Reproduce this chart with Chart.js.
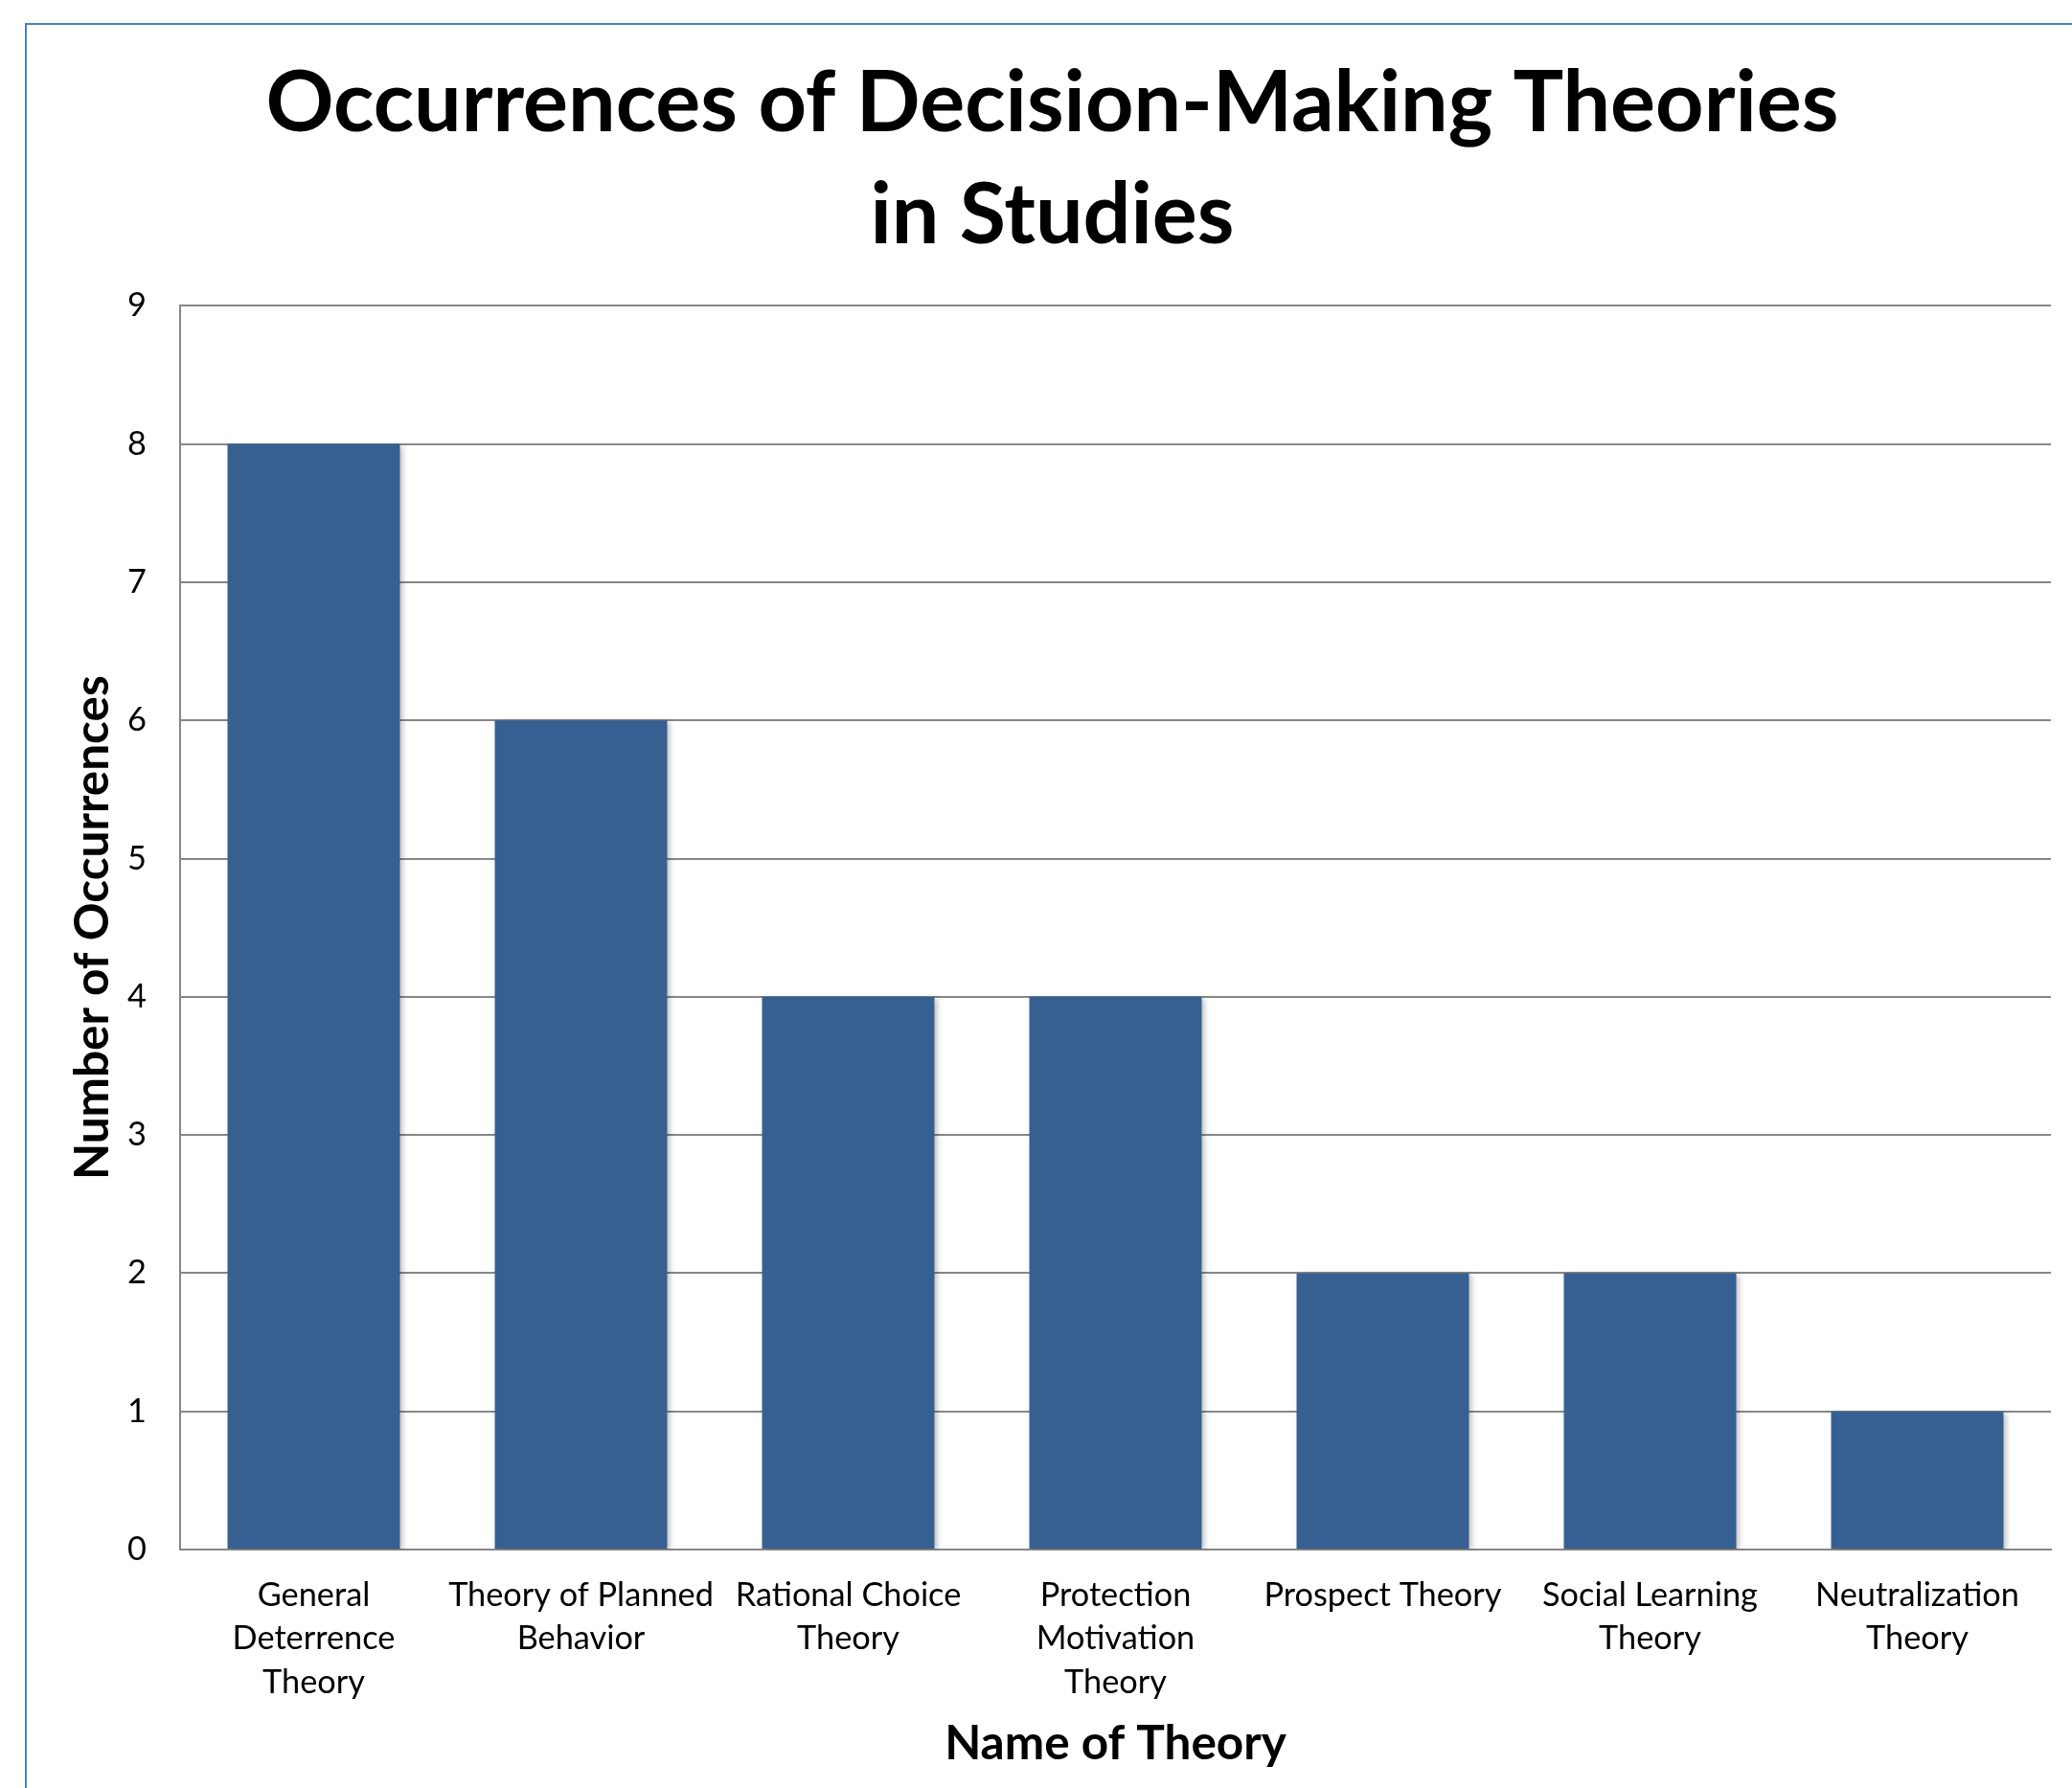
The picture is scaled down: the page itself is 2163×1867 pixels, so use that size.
<!DOCTYPE html>
<html>
<head>
<meta charset="utf-8">
<script src="https://cdn.jsdelivr.net/npm/chart.js@4"></script>
<style>
  html, body { margin: 0; padding: 0; background: #fff; }
  #wrap { width: 2163px; height: 1867px; position: relative; }
</style>
</head>
<body>
<div id="wrap"><canvas id="dataChart" width="2163" height="1867"></canvas></div>
<script>
const theoryLabels = [
    ["General", "Deterrence", "Theory"],
    ["Theory of Planned", "Behavior"],
    ["Rational Choice", "Theory"],
    ["Protection", "Motivation", "Theory"],
    ["Prospect Theory"],
    ["Social Learning", "Theory"],
    ["Neutralization", "Theory"]
];
const occurrences = [8, 6, 4, 4, 2, 2, 1];
const yTicks = [0, 1, 2, 3, 4, 5, 6, 7, 8, 9];

const chartTitle = ["Occurrences of Decision-Making Theories", "in Studies"];
const xTitle = "Name of Theory";
const yTitle = "Number of Occurrences";

const FONT = "Lato";
const GRID = "#878787";

// outer frame of the chart area (runs off the right/bottom edge)
const framePlugin = {
    id: 'frame',
    beforeDraw: (chart) => {
        const ctx = chart.ctx;
        ctx.save();
        ctx.fillStyle = "#ffffff";
        ctx.fillRect(0, 0, chart.width, chart.height);
        ctx.strokeStyle = "#4f81bd";
        ctx.lineWidth = 2;
        ctx.strokeRect(27, 25, 2400, 2200);
        ctx.restore();
    }
};

// soft shadow on bars, like the old office style
const shadowPlugin = {
    id: 'barShadow',
    beforeDatasetDraw: (chart) => {
        const ctx = chart.ctx;
        ctx.save();
        ctx.shadowColor = "rgba(0,0,0,0.28)";
        ctx.shadowBlur = 6;
        ctx.shadowOffsetX = 3;
        ctx.shadowOffsetY = 2;
    },
    afterDatasetDraw: (chart) => {
        chart.ctx.restore();
    }
};

const data = {
    labels: theoryLabels,
    datasets: [{
        label: 'occurrences',
        data: occurrences,
        backgroundColor: "#376092",
        borderWidth: 0,
        barPercentage: 0.645,
        categoryPercentage: 1.0
    }]
};

const config = {
    type: 'bar',
    data: data,
    options: {
        responsive: false,
        animation: false,
        layout: { padding: { left: 56, right: 22, top: 0, bottom: 0 } },
        plugins: {
            legend: { display: false },
            tooltip: { enabled: false },
            title: {
                display: true,
                text: chartTitle,
                color: "#000",
                font: { family: FONT, size: 88, weight: 'bold', lineHeight: 1.32 },
                padding: { top: 51, bottom: 36 }
            }
        },
        scales: {
            x: {
                grid: { display: false, drawTicks: false },
                border: { display: true, color: GRID, width: 2 },
                ticks: {
                    color: "#000",
                    font: { family: FONT, size: 34.3, lineHeight: 1.33 },
                    padding: 25,
                    autoSkip: false,
                    maxRotation: 0,
                    minRotation: 0
                },
                title: {
                    display: true,
                    text: xTitle,
                    color: "#000",
                    font: { family: FONT, size: 49.5, weight: 'bold', lineHeight: 1.2 },
                    padding: { top: 0, bottom: 16 }
                },
                afterFit: (scale) => { scale.height = 249; }
            },
            y: {
                min: 0,
                max: 9,
                afterBuildTicks: (scale) => {
                    scale.ticks = yTicks.map(v => ({ value: v }));
                },
                grid: { color: GRID, lineWidth: 2, drawTicks: false },
                border: { display: true, color: GRID, width: 2 },
                ticks: {
                    color: "#000",
                    font: { family: FONT, size: 34.3 },
                    padding: 35
                },
                title: {
                    display: true,
                    text: yTitle,
                    color: "#000",
                    font: { family: FONT, size: 49.5, weight: 'bold', lineHeight: 1.2 },
                    padding: { top: 11, bottom: 0 }
                },
                afterFit: (scale) => { scale.width = 132; }
            }
        }
    },
    plugins: [framePlugin, shadowPlugin]
};

const dataChart = new Chart(document.getElementById('dataChart'), config);
</script>
</body>
</html>
